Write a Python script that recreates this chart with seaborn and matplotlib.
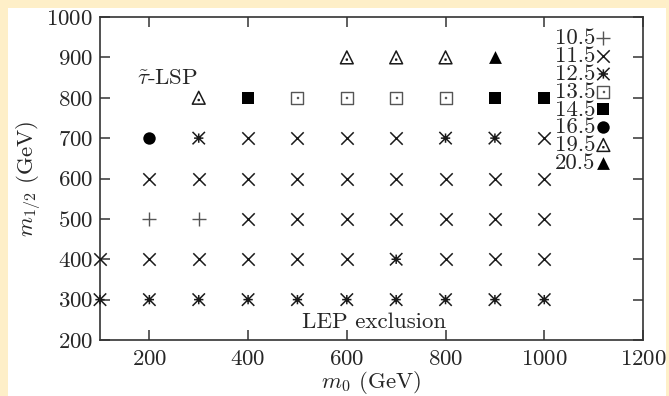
import numpy as np
import pandas as pd
import matplotlib
matplotlib.use("Agg")
import matplotlib.pyplot as plt
from matplotlib.path import Path
import seaborn as sns

# ---------------- data ----------------
m0_values = [600, 700, 800, 900,
             300, 400, 500, 600, 700, 800, 900, 1000,
             200, 300, 400, 500, 600, 700, 800, 900, 1000,
             200, 300, 400, 500, 600, 700, 800, 900, 1000,
             200, 300, 400, 500, 600, 700, 800, 900, 1000,
             100, 200, 300, 400, 500, 600, 700, 800, 900, 1000,
             100, 200, 300, 400, 500, 600, 700, 800, 900, 1000]
m12_values = [900] * 4 + [800] * 8 + [700] * 9 + [600] * 9 + [500] * 9 + [400] * 10 + [300] * 10
mass_labels = ["19.5", "19.5", "19.5", "20.5",
               "19.5", "14.5", "13.5", "13.5", "13.5", "13.5", "14.5", "14.5",
               "16.5", "12.5", "11.5", "11.5", "11.5", "11.5", "12.5", "12.5", "11.5",
               "11.5", "11.5", "11.5", "11.5", "11.5", "11.5", "11.5", "11.5", "11.5",
               "10.5", "10.5", "11.5", "11.5", "11.5", "11.5", "11.5", "11.5", "11.5",
               "11.5", "11.5", "11.5", "11.5", "11.5", "11.5", "12.5", "11.5", "11.5", "11.5",
               "12.5", "12.5", "12.5", "12.5", "12.5", "12.5", "12.5", "12.5", "12.5", "12.5"]
legend_order = ["10.5", "11.5", "12.5", "13.5", "14.5", "16.5", "19.5", "20.5"]
x_ticks = [200, 400, 600, 800, 1000, 1200]
y_ticks = [200, 300, 400, 500, 600, 700, 800, 900, 1000]

df = pd.DataFrame({"m0": m0_values, "m12": m12_values, "mass": mass_labels})

# ---------------- custom markers ----------------
def asterisk_path():
    a = 0.75
    verts = [(-1, -1), (1, 1), (-1, 1), (1, -1), (0, -a), (0, a), (-a, 0), (a, 0)]
    codes = [Path.MOVETO, Path.LINETO] * 4
    return Path(verts, codes)

def dotted_square_path():
    d = 0.07
    verts = [(-1, -1), (1, -1), (1, 1), (-1, 1), (-1, -1),
             (-d, -d), (d, -d), (d, d), (-d, d), (-d, -d)]
    codes = [Path.MOVETO, Path.LINETO, Path.LINETO, Path.LINETO, Path.CLOSEPOLY] * 2
    return Path(verts, codes)

def dotted_triangle_path():
    d = 0.07
    cy = -0.35
    verts = [(-1, -1), (1, -1), (0, 1), (-1, -1),
             (-d, cy - d), (d, cy - d), (d, cy + d), (-d, cy + d), (-d, cy - d)]
    codes = [Path.MOVETO, Path.LINETO, Path.LINETO, Path.CLOSEPOLY,
             Path.MOVETO, Path.LINETO, Path.LINETO, Path.LINETO, Path.CLOSEPOLY]
    return Path(verts, codes)

ink = "#1a1a1a"
grey = "#555555"
styles = {
    "10.5": dict(marker="+", s=95, c=grey, linewidths=1.0),
    "11.5": dict(marker="x", s=80, c=ink, linewidths=1.1),
    "12.5": dict(marker=asterisk_path(), s=80, facecolors="none", edgecolors=ink, linewidths=1.1),
    "13.5": dict(marker=dotted_square_path(), s=75, facecolors="none", edgecolors=grey, linewidths=1.0),
    "14.5": dict(marker="s", s=75, c="black", linewidths=0),
    "16.5": dict(marker="o", s=80, c="black", linewidths=0),
    "19.5": dict(marker=dotted_triangle_path(), s=85, facecolors="none", edgecolors=ink, linewidths=1.1),
    "20.5": dict(marker="^", s=85, c="black", linewidths=0),
}

# ---------------- figure ----------------
sns.set_style("ticks")
plt.rcParams["font.family"] = ["cmr10", "DejaVu Serif"]
plt.rcParams["mathtext.fontset"] = "cm"
plt.rcParams["axes.formatter.use_mathtext"] = True

FS = 16.5

fig = plt.figure(figsize=(6.69, 3.96), dpi=100)
fig.patch.set_facecolor("#FEEFC8")
fig.patches.append(plt.Rectangle((8 / 669, 0), (666 - 8) / 669, 1 - 8 / 396,
                                 transform=fig.transFigure, facecolor="white",
                                 edgecolor="none", zorder=-10))
ax = fig.add_axes([100 / 669, 1 - 340 / 396, (643 - 100) / 669, (340 - 17) / 396])
ax.set_facecolor("white")

for lab in legend_order:
    sub = df[df["mass"] == lab]
    sns.scatterplot(data=sub, x="m0", y="m12", ax=ax, label=lab,
                    clip_on=False, zorder=3, **styles[lab])

ax.set_xlim(100, 1200)
ax.set_ylim(200, 1000)
ax.set_xticks(x_ticks)
ax.set_yticks(y_ticks)
ax.tick_params(direction="in", length=7, width=1.1, top=True, right=True,
               labelsize=FS, color="#333333")
ax.tick_params(axis="x", pad=7)
ax.tick_params(axis="y", pad=5)
for sp in ax.spines.values():
    sp.set_linewidth(1.2)
    sp.set_color("#333333")
    sp.set_visible(True)

ax.set_xlabel(r"$m_0$ (GeV)", fontsize=FS, labelpad=0)
ax.set_ylabel(r"$m_{1/2}$ (GeV)", fontsize=FS, labelpad=2)

ax.text(175, 848, r"$\tilde{\tau}$-LSP", fontsize=FS, ha="left", va="center")
ax.text(509, 245, "LEP exclusion", fontsize=FS, ha="left", va="center")

leg = ax.legend(loc="upper right", bbox_to_anchor=(0.965, 1.0), frameon=False,
                markerfirst=False, handletextpad=-0.05, labelspacing=-0.1,
                borderpad=0, handlelength=0.8, fontsize=16.5, scatterpoints=1)
for t in leg.get_texts():
    t.set_ha("right")

fig.savefig("out.png", dpi=100, facecolor=fig.get_facecolor())
